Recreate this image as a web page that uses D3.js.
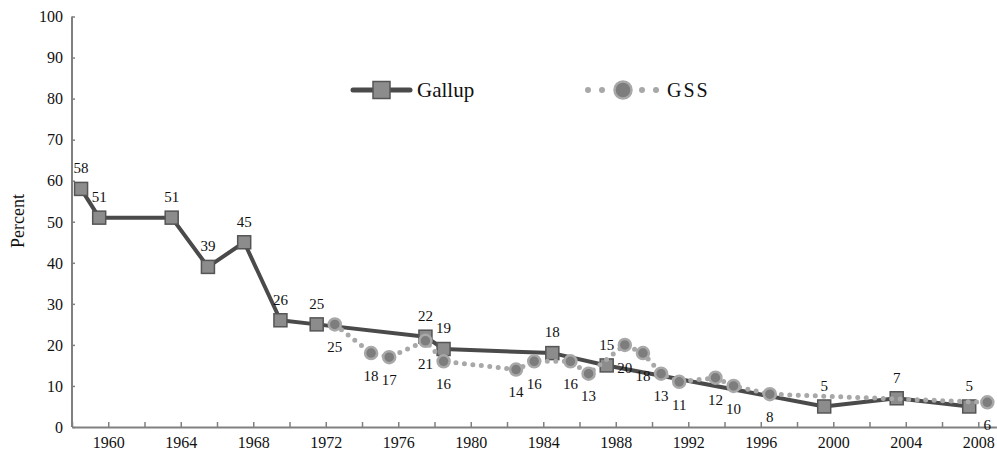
<!DOCTYPE html>
<html>
<head>
<meta charset="utf-8">
<title>Gallup vs GSS</title>
<script src="https://cdn.jsdelivr.net/npm/d3@7"></script>
<style>
  html, body { margin: 0; padding: 0; background: #fff; }
</style>
</head>
<body>
<div id="chart"></div>
<script>
// survey series (x = fractional year of the survey)
const gallupYears  = [1958.5, 1959.5, 1963.5, 1965.5, 1967.5, 1969.5, 1971.5, 1977.5, 1978.5, 1984.5, 1987.5, 1999.5, 2003.5, 2007.5];
const gallupValues = [58, 51, 51, 39, 45, 26, 25, 22, 19, 18, 15, 5, 7, 5];

const gssYears  = [1972.5, 1974.5, 1975.5, 1977.5, 1978.5, 1982.5, 1983.5, 1985.5, 1986.5, 1988.5, 1989.5, 1990.5, 1991.5, 1993.5, 1994.5, 1996.5, 2008.5];
const gssValues = [25, 18, 17, 21, 16, 14, 16, 16, 13, 20, 18, 13, 11, 12, 10, 8, 6];

const yTicks = [0, 10, 20, 30, 40, 50, 60, 70, 80, 90, 100];
const xTickYears = d3.range(1958, 2009, 2);
const xLabelYears = [1960, 1964, 1968, 1972, 1976, 1980, 1984, 1988, 1992, 1996, 2000, 2004, 2008];

const WIDTH = 997, HEIGHT = 455;
const FONT = '"Liberation Serif", "Times New Roman", "DejaVu Serif", serif';
const axisColor = '#808080';
const gallupLine = '#4a4a4a', gallupFill = '#8c8c8c', gallupEdge = '#555';
const gssLine = '#a8a8a8', gssFill = '#7d7d7d';

const svg = d3.select('#chart').append('svg')
    .attr('width', WIDTH)
    .attr('height', HEIGHT)
    .attr('font-family', FONT);

const x = d3.scaleLinear().domain([1958, 2009]).range([72, 996.4]);
const y = d3.scaleLinear().domain([0, 100]).range([427, 16.5]);

// y axis
const yAxis = d3.axisLeft(y).tickValues(yTicks).tickSize(-3).tickPadding(0).tickFormat(d3.format('d'));
const gy = svg.append('g').attr('transform', 'translate(72,0)').call(yAxis)
    .attr('font-family', FONT).attr('font-size', 16);
gy.select('.domain').attr('stroke', axisColor).attr('stroke-width', 2).attr('d', 'M0,' + y(100) + 'V' + y(0));
gy.selectAll('.tick line').attr('stroke', axisColor).attr('stroke-width', 1.5);
gy.selectAll('.tick text').attr('x', -9).attr('dy', '0.33em').attr('fill', '#111');

// x axis
const xAxis = d3.axisBottom(x).tickValues(xTickYears).tickSize(-5).tickSizeOuter(0).tickPadding(0)
    .tickFormat(d => xLabelYears.includes(d) ? d : '');
const gx = svg.append('g').attr('transform', 'translate(0,' + y(0) + ')').call(xAxis)
    .attr('font-family', FONT).attr('font-size', 16);
gx.select('.domain').attr('stroke', axisColor).attr('stroke-width', 2);
gx.selectAll('.tick line').attr('stroke', axisColor).attr('stroke-width', 1.5);
gx.selectAll('.tick text').attr('y', 16).attr('dy', '0.32em').attr('fill', '#111');

// y title
svg.append('text')
    .attr('transform', 'translate(24,221) rotate(-90)')
    .attr('text-anchor', 'middle')
    .attr('font-size', 18)
    .attr('fill', '#111')
    .text('Percent');

const gallup = gallupYears.map((yr, i) => ({ yr, v: gallupValues[i] }));
const gss = gssYears.map((yr, i) => ({ yr, v: gssValues[i] }));
const line = d3.line().x(d => x(d.yr)).y(d => y(d.v));

// Gallup series
svg.append('path').datum(gallup)
    .attr('d', line).attr('fill', 'none')
    .attr('stroke', gallupLine).attr('stroke-width', 4).attr('stroke-linejoin', 'round');
svg.selectAll('.gsq').data(gallup).enter().append('rect')
    .attr('x', d => x(d.yr) - 6.5).attr('y', d => y(d.v) - 6.5)
    .attr('width', 13).attr('height', 13)
    .attr('fill', gallupFill).attr('stroke', gallupEdge).attr('stroke-width', 1.5);

// GSS series
svg.append('path').datum(gss)
    .attr('d', line).attr('fill', 'none')
    .attr('stroke', gssLine).attr('stroke-width', 5)
    .attr('stroke-linecap', 'round').attr('stroke-dasharray', '0 8.5');
svg.selectAll('.gci').data(gss).enter().append('circle')
    .attr('cx', d => x(d.yr)).attr('cy', d => y(d.v)).attr('r', 6)
    .attr('fill', gssFill).attr('stroke', gssLine).attr('stroke-width', 2.5);

// data labels
svg.selectAll('.glab').data(gallup).enter().append('text')
    .attr('x', d => x(d.yr)).attr('y', d => y(d.v) - 21)
    .attr('dy', '0.35em').attr('text-anchor', 'middle').attr('font-size', 15).attr('fill', '#111')
    .text(d => d.v);
svg.selectAll('.slab').data(gss).enter().append('text')
    .attr('x', d => x(d.yr)).attr('y', d => y(d.v) + 22.5)
    .attr('dy', '0.35em').attr('text-anchor', 'middle').attr('font-size', 15).attr('fill', '#111')
    .text(d => d.v);

// legend
const leg = svg.append('g');
leg.append('line').attr('x1', 353).attr('x2', 410).attr('y1', 90).attr('y2', 90)
    .attr('stroke', gallupLine).attr('stroke-width', 5).attr('stroke-linecap', 'round');
leg.append('rect').attr('x', 373).attr('y', 81.5).attr('width', 17).attr('height', 17)
    .attr('fill', gallupFill).attr('stroke', gallupEdge).attr('stroke-width', 1.5);
leg.append('text').attr('x', 417).attr('y', 97).attr('font-size', 21).attr('fill', '#111').text('Gallup');

[[588, 604], [642, 658]].forEach(function(seg) {
    leg.append('line').attr('x1', seg[0]).attr('x2', seg[1]).attr('y1', 90).attr('y2', 90)
        .attr('stroke', gssLine).attr('stroke-width', 6)
        .attr('stroke-linecap', 'round').attr('stroke-dasharray', '0 14');
});
leg.append('circle').attr('cx', 623).attr('cy', 90).attr('r', 8.5)
    .attr('fill', gssFill).attr('stroke', gssLine).attr('stroke-width', 2.5);
leg.append('text').attr('x', 667).attr('y', 97).attr('font-size', 20).attr('fill', '#111')
    .attr('letter-spacing', 2).text('GSS');
</script>
</body>
</html>
